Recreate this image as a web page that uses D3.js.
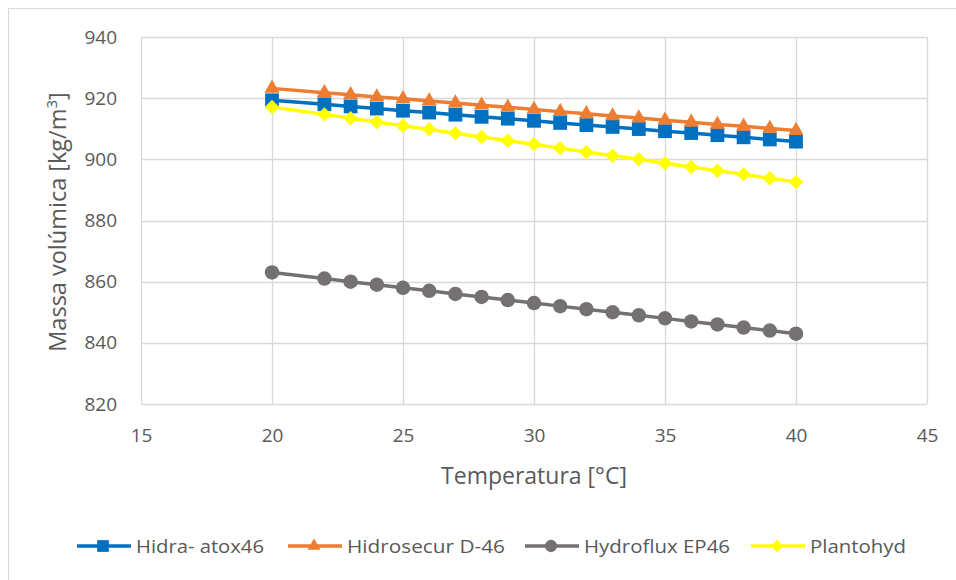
<!DOCTYPE html>
<html>
<head>
<meta charset="utf-8">
<script src="https://cdn.jsdelivr.net/npm/d3@7"></script>
<style>
  html, body { margin: 0; padding: 0; background: #fff; }
  svg { display: block; }
  text { font-family: "Open Sans", Lato, sans-serif; fill: #595959; }
</style>
</head>
<body>
<svg id="chart" width="956" height="580"></svg>
<script>
//
// Data
//
const temps = [20, 22, 23, 24, 25, 26, 27, 28, 29, 30, 31, 32, 33, 34, 35, 36, 37, 38, 39, 40];
const hidraAtox = [919.3, 918.0, 917.3, 916.6, 915.9, 915.3, 914.6, 913.9, 913.3, 912.6, 911.9, 911.2, 910.6, 909.9, 909.2, 908.6, 907.9, 907.2, 906.5, 905.8];
const hidrosecur = [923.2, 921.8, 921.1, 920.4, 919.8, 919.1, 918.4, 917.7, 917.0, 916.3, 915.6, 914.9, 914.2, 913.5, 912.8, 912.1, 911.4, 910.8, 910.1, 909.4];
const hydroflux = [863, 861, 860, 859, 858, 857, 856, 855, 854, 853, 852, 851, 850, 849, 848, 847, 846, 845, 844, 843];
const plantohyd = [917.1, 914.7, 913.4, 912.2, 911.0, 909.8, 908.5, 907.3, 906.1, 904.9, 903.6, 902.4, 901.2, 900.0, 898.7, 897.5, 896.3, 895.1, 893.8, 892.6];
const seriesNames = ['Hidra- atox46', 'Hidrosecur D-46', 'Hydroflux EP46', 'Plantohyd'];
const xTicks = [15, 20, 25, 30, 35, 40, 45];
const yTicks = [820, 840, 860, 880, 900, 920, 940];

//
// Config
//
const colors = ['#0070c0', '#ed7d31', '#767171', '#ffff00'];
const markers = ['square', 'triangle', 'circle', 'diamond'];
const gridColor = '#d9d9d9';
const plot = {left: 141, right: 927, top: 37, bottom: 404};

const svg = d3.select('#chart');

// outer chart border
svg.append('rect')
    .attr('x', 8.5).attr('y', 8.5)
    .attr('width', 960).attr('height', 600)
    .attr('fill', 'none').attr('stroke', gridColor);

const x = d3.scaleLinear().domain([15, 45]).range([plot.left, plot.right]);
const y = d3.scaleLinear().domain([820, 940]).range([plot.bottom, plot.top]);

// gridlines
svg.append('g').selectAll('line').data(yTicks).join('line')
    .attr('x1', plot.left).attr('x2', plot.right)
    .attr('y1', d => Math.round(y(d)) + 0.5).attr('y2', d => Math.round(y(d)) + 0.5)
    .attr('stroke', gridColor).attr('stroke-width', 1.3);
svg.append('g').selectAll('line').data(xTicks).join('line')
    .attr('y1', plot.top).attr('y2', plot.bottom)
    .attr('x1', d => Math.round(x(d)) + 0.5).attr('x2', d => Math.round(x(d)) + 0.5)
    .attr('stroke', gridColor).attr('stroke-width', 1.3);

// axes
const xAxis = svg.append('g')
    .attr('transform', `translate(0,${plot.bottom})`)
    .call(d3.axisBottom(x).tickValues(xTicks).tickSize(0).tickPadding(25));
const yAxis = svg.append('g')
    .attr('transform', `translate(${plot.left},0)`)
    .call(d3.axisLeft(y).tickValues(yTicks).tickSize(0).tickPadding(24));
[xAxis, yAxis].forEach(a => {
  a.select('.domain').remove();
  a.selectAll('text').style('font-size', '19px').attr('fill', '#595959')
      .style('font-family', '"Open Sans", Lato, sans-serif');
});

// axis titles
svg.append('text')
    .attr('x', 534).attr('y', 484)
    .attr('text-anchor', 'middle')
    .style('font-size', '23px')
    .text('Temperatura [°C]');
svg.append('text')
    .attr('transform', 'translate(66,222) rotate(-90)')
    .attr('text-anchor', 'middle')
    .style('font-size', '23.5px')
    .html('Massa volúmica [kg/m<tspan dy="-9" font-size="15px">3</tspan><tspan dy="9">]</tspan>');

// markers
function markerPath(kind, scale) {
  const s = scale || 1;
  if (kind === 'square') return d3.symbol(d3.symbolSquare, 190 * s * s)();
  if (kind === 'triangle') return d3.symbol(d3.symbolTriangle, 100 * s * s)();
  if (kind === 'circle') return d3.symbol(d3.symbolCircle, 165 * s * s)();
  return d3.symbol(d3.symbolSquare, 105 * s * s)();
}

const allSeries = [hidraAtox, hidrosecur, hydroflux, plantohyd];
const line = d3.line().x(d => x(d[0])).y(d => y(d[1]));

allSeries.forEach((vals, i) => {
  const pts = temps.map((t, k) => [t, vals[k]]);
  const g = svg.append('g');
  g.append('path')
      .attr('d', line(pts))
      .attr('fill', 'none')
      .attr('stroke', colors[i])
      .attr('stroke-width', 3.5)
      .attr('stroke-linejoin', 'round');
  g.selectAll('path.m').data(pts).join('path')
      .attr('class', 'm')
      .attr('d', markerPath(markers[i]))
      .attr('transform', d => `translate(${x(d[0])},${y(d[1])})` + (markers[i] === 'diamond' ? ' rotate(45)' : ''))
      .attr('fill', colors[i]);
});

// legend
const legendX = [77, 288, 525, 751];
const legendW = [128, 158, 146, 96];
const legendY = 546;
seriesNames.forEach((name, i) => {
  const g = svg.append('g').attr('transform', `translate(${legendX[i]},${legendY})`);
  g.append('line')
      .attr('x1', 0).attr('x2', 54).attr('y1', 0).attr('y2', 0)
      .attr('stroke', colors[i]).attr('stroke-width', 3.5);
  g.append('path')
      .attr('d', markerPath(markers[i], 0.85))
      .attr('transform', 'translate(26,0)' + (markers[i] === 'diamond' ? ' rotate(45)' : ''))
      .attr('fill', colors[i]);
  g.append('text')
      .attr('x', 59).attr('y', 7)
      .style('font-size', '18.5px')
      .attr('textLength', legendW[i])
      .attr('lengthAdjust', 'spacingAndGlyphs')
      .text(name);
});
</script>
</body>
</html>
